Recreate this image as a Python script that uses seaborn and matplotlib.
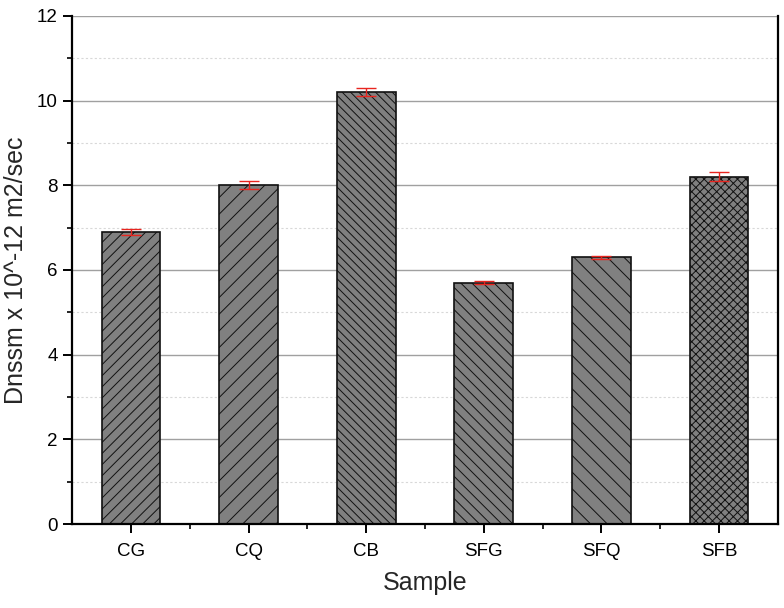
import matplotlib

matplotlib.use("Agg")

import matplotlib.pyplot as plt
import pandas as pd
import seaborn as sns
from matplotlib.ticker import MultipleLocator

samples = ["CG", "CQ", "CB", "SFG", "SFQ", "SFB"]
dnssm = [6.9, 8.0, 10.2, 5.7, 6.3, 8.2]
dnssm_err = [0.07, 0.09, 0.1, 0.03, 0.04, 0.11]
hatches = ["///", "//", "\\\\\\\\", "\\\\\\", "\\\\", "xxxx"]

sns.set_theme(style="white")
plt.rcParams["font.family"] = ["Liberation Sans", "DejaVu Sans"]
plt.rcParams["hatch.linewidth"] = 0.7
plt.rcParams["hatch.color"] = "#222222"

df = pd.DataFrame({"sample": samples, "value": dnssm})

fig = plt.figure(figsize=(7.84, 6.08), dpi=100)
ax = fig.add_axes([0.092, 0.138, 0.9, 0.836])

sns.barplot(data=df, x="sample", y="value", color="#808080", saturation=1,
            width=0.5, edgecolor="#111111", linewidth=1.2, errorbar=None, ax=ax)
for bar, h in zip(ax.patches, hatches):
    bar.set_hatch(h)

# error bars drawn separately, one value per sample
ax.errorbar(range(len(samples)), dnssm, yerr=dnssm_err, fmt="none",
            ecolor="#e8251f", elinewidth=1, capsize=7, capthick=1, zorder=5)

ax.set_xlim(-0.5, 5.5)
ax.set_ylim(0, 12)
ax.yaxis.set_major_locator(MultipleLocator(2))
ax.yaxis.set_minor_locator(MultipleLocator(1))
ax.set_xticks(range(len(samples)), minor=False)
ax.set_xticks([i + 0.5 for i in range(len(samples) - 1)], minor=True)

ax.set_axisbelow(True)
ax.grid(which="major", axis="y", color="#a0a0a0", lw=1, ls="-")
ax.grid(which="minor", axis="y", color="#d8d8d8", lw=0.8, ls=(0, (2, 2)))

ax.spines["top"].set_visible(False)
for side in ["left", "bottom", "right"]:
    ax.spines[side].set_visible(True)
    ax.spines[side].set_color("black")
    ax.spines[side].set_linewidth(1.6)

ax.tick_params(which="major", direction="out", length=6.5, width=1.4,
               labelsize=13.5, colors="black", left=True, bottom=True, pad=4)
ax.tick_params(axis="x", which="major", pad=7)
ax.tick_params(which="minor", direction="out", length=3.5, width=1.2,
               left=True, bottom=True, colors="black")

ax.set_xlabel("Sample", fontsize=18, labelpad=8)
ax.set_ylabel("Dnssm x 10^-12 m2/sec", fontsize=18, labelpad=6)

fig.savefig("out.png", dpi=100)
